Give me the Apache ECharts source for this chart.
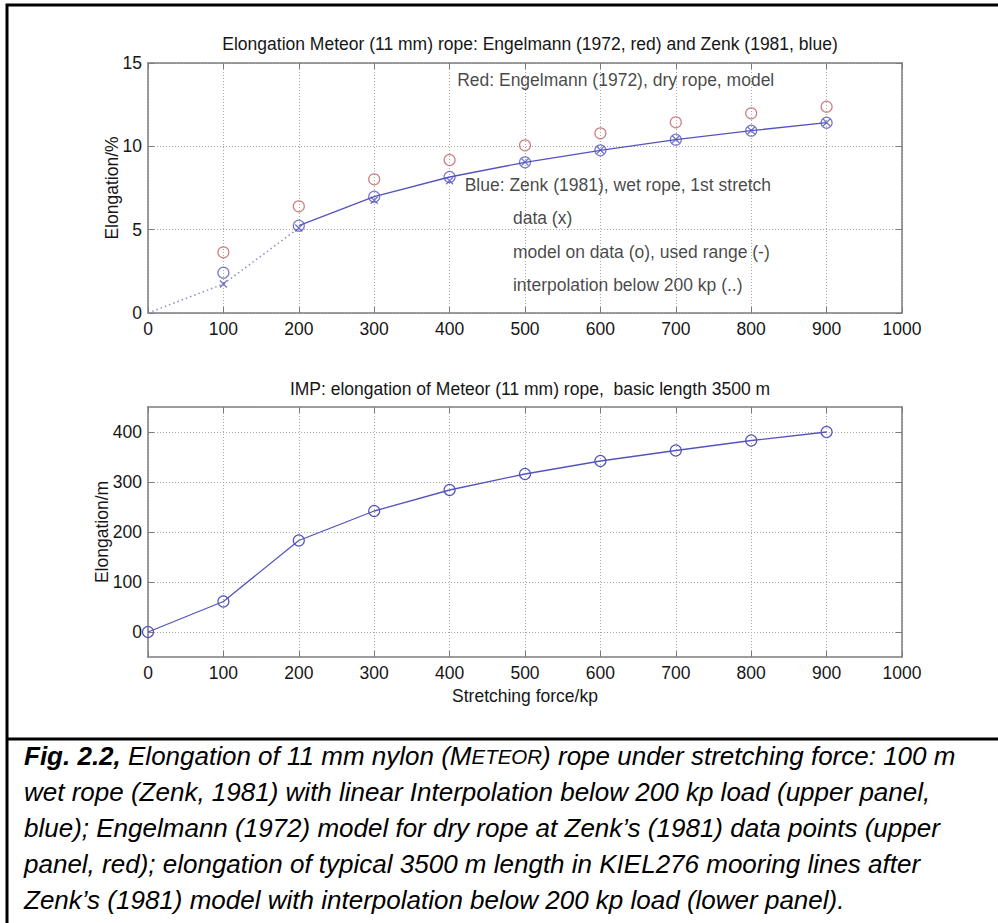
<!DOCTYPE html>
<html>
<head>
<meta charset="utf-8">
<script src="https://cdn.jsdelivr.net/npm/echarts@6/dist/echarts.min.js"></script>
<style>
  html, body { margin: 0; padding: 0; background: #ffffff; }
  #fig { width: 998px; height: 923px; }
</style>
</head>
<body>
<div id="fig"></div>
<script>
// Load steps of the stretching test (kp)
const forceKp = [100, 200, 300, 400, 500, 600, 700, 800, 900];
// Engelmann (1972), dry rope, model elongation in %
const engelmannDry = [3.64, 6.40, 8.02, 9.18, 10.06, 10.78, 11.44, 11.98, 12.38];
// Zenk (1981), wet rope, model evaluated at the data points, %
const zenkModel = [2.42, 5.24, 6.98, 8.16, 9.04, 9.76, 10.40, 10.94, 11.42];
// Zenk (1981), wet rope, 1st stretch, measured data, %
const zenkData = [1.74, 5.10, 6.76, 7.94, 9.06, 9.78, 10.42, 10.95, 11.43];
// Lower panel: load including zero, elongation of a 3500 m line in metres
const forceKpFull = [0, 100, 200, 300, 400, 500, 600, 700, 800, 900];
const elongation3500m = [0, 61, 183, 242, 284, 316, 342, 363, 383, 400];
// Tick values
const yTicksTop = [0, 5, 10, 15];
const yTicksBottom = [0, 100, 200, 300, 400];

const FONT = '"Liberation Sans", Arial, Helvetica, sans-serif';
const AXIS = '#7c7c7c';
const GRIDC = '#a8a8a8';
const TXT = '#161616';
const BLUE = '#5454be';
const RED = '#c25e5e';
const FS = 17.5;

const labelStyle = { color: TXT, fontSize: FS, fontFamily: FONT };
const dotted = { color: GRIDC, width: 1, type: [1, 2] };

function xPair(gridIndex, name) {
  const base = {
    type: 'value', gridIndex: gridIndex, min: 0, max: 1000, interval: 100,
    axisLine: { show: true, onZero: false, lineStyle: { color: AXIS, width: 1.5 } },
    axisTick: { show: true, inside: true, length: 6, lineStyle: { color: AXIS, width: 1 } }
  };
  return [
    Object.assign({}, base, {
      position: 'bottom',
      axisLabel: Object.assign({ margin: 7, formatter: (v) => String(v) }, labelStyle),
      splitLine: { show: true, lineStyle: dotted },
      name: name, nameLocation: 'middle', nameGap: 30, nameMoveOverlap: false,
      nameTextStyle: labelStyle
    }),
    Object.assign({}, base, {
      position: 'top',
      axisLabel: { show: false },
      splitLine: { show: false }
    })
  ];
}

function yPair(gridIndex, name, nameGap, min, max, interval, ticks) {
  const base = {
    type: 'value', gridIndex: gridIndex, min: min, max: max, interval: interval,
    axisLine: { show: true, onZero: false, lineStyle: { color: AXIS, width: 1.5 } },
    axisTick: { show: true, inside: true, length: 6, customValues: ticks, lineStyle: { color: AXIS, width: 1 } }
  };
  return [
    Object.assign({}, base, {
      position: 'left',
      axisLabel: Object.assign({ margin: 6, customValues: ticks, formatter: (v) => String(v) }, labelStyle),
      splitLine: { show: true, lineStyle: dotted },
      name: name, nameLocation: 'middle', nameGap: nameGap, nameMoveOverlap: false,
      nameTextStyle: labelStyle
    }),
    Object.assign({}, base, {
      position: 'right',
      axisLabel: { show: false },
      splitLine: { show: false }
    })
  ];
}

const hollow = (color) => ({ color: 'transparent', borderColor: color, borderWidth: 1.2 });
const crossPath = 'path://M0,0L10,10M10,0L0,10';

// Text written inside the upper panel, anchored in data coordinates
const notes = [
  { at: [410, 14.0], text: 'Red: Engelmann (1972), dry rope, model' },
  { at: [420, 7.7], text: 'Blue: Zenk (1981), wet rope, 1st stretch' },
  { at: [484, 5.72], text: 'data (x)' },
  { at: [484, 3.68], text: 'model on data (o), used range (-)' },
  { at: [484, 1.70], text: 'interpolation below 200 kp (..)' }
];

const capBase = { fontFamily: FONT, fontSize: 26, fontStyle: 'italic', color: '#000', lineHeight: 32 };
const capRich = {
  b: Object.assign({}, capBase, { fontWeight: 'bold' }),
  i: capBase,
  s: Object.assign({}, capBase, { fontSize: 20.5 })
};
const captionLines = [
  '{b|Fig. 2.2,}{i| Elongation of 11 mm nylon (M}{s|ETEOR}{i|) rope under stretching force: 100 m}',
  '{i|wet rope (Zenk, 1981) with linear Interpolation below 200 kp load (upper panel,}',
  '{i|blue); Engelmann (1972) model for dry rope at Zenk\u2019s (1981) data points (upper}',
  '{i|panel, red); elongation of typical 3500 m length in KIEL276 mooring lines after}',
  '{i|Zenk\u2019s (1981) model with interpolation below 200 kp load (lower panel).}'
];

const chart = echarts.init(document.getElementById('fig'), null, { renderer: 'svg' });

const titleStyle = { fontFamily: FONT, fontSize: FS, fontWeight: 'normal', color: TXT, lineHeight: 20 };

const option = {
  backgroundColor: '#ffffff',
  animation: false,
  title: [
    { text: 'Elongation Meteor (11 mm) rope: Engelmann (1972, red) and Zenk (1981, blue)',
      left: 525, top: 29, textAlign: 'center', textStyle: titleStyle },
    { text: 'IMP: elongation of Meteor (11 mm) rope,  basic length 3500 m',
      left: 525, top: 374, textAlign: 'center', textStyle: titleStyle }
  ],
  grid: [
    { left: 148, right: 96, top: 63, height: 250, containLabel: false },
    { left: 148, right: 96, top: 407, height: 250, containLabel: false }
  ],
  xAxis: [].concat(xPair(0, ''), xPair(1, 'Stretching force/kp')),
  yAxis: [].concat(
    yPair(0, 'Elongation/%', 27, 0, 15, 5, yTicksTop),
    yPair(1, 'Elongation/m', 37, -50, 450, 50, yTicksBottom)
  ),
  series: [
    {
      name: 'interpolation below 200 kp', type: 'line', xAxisIndex: 0, yAxisIndex: 0,
      data: [[0, 0], [forceKp[0], zenkData[0]], [forceKp[1], zenkData[1]]],
      symbol: 'none', lineStyle: { color: '#8c8cc8', width: 1.5, type: [1.5, 3] }, z: 3
    },
    {
      name: 'used range', type: 'line', xAxisIndex: 0, yAxisIndex: 0,
      data: forceKp.slice(1).map((f, i) => [f, zenkModel[i + 1]]),
      symbol: 'none', lineStyle: { color: BLUE, width: 1.3 }, z: 3
    },
    {
      name: 'Engelmann (1972)', type: 'scatter', xAxisIndex: 0, yAxisIndex: 0,
      data: forceKp.map((f, i) => [f, engelmannDry[i]]),
      symbol: 'circle', symbolSize: 11, itemStyle: hollow(RED), z: 4
    },
    {
      name: 'Zenk (1981) model', type: 'scatter', xAxisIndex: 0, yAxisIndex: 0,
      data: forceKp.map((f, i) => [f, zenkModel[i]]),
      symbol: 'circle', symbolSize: 11, itemStyle: hollow(BLUE), z: 4
    },
    {
      name: 'Zenk (1981) data', type: 'scatter', xAxisIndex: 0, yAxisIndex: 0,
      data: forceKp.map((f, i) => [f, zenkData[i]]),
      symbol: crossPath, symbolSize: 7, itemStyle: { color: 'none', borderColor: BLUE, borderWidth: 1.3 }, z: 5
    },
    {
      name: 'notes', type: 'scatter', xAxisIndex: 0, yAxisIndex: 0, silent: true,
      symbolSize: 0,
      data: notes.map(n => ({ value: n.at, label: { formatter: n.text } })),
      label: { show: true, position: 'right', distance: 0, color: TXT, fontSize: FS, fontFamily: FONT },
      z: 6
    },
    {
      name: 'elongation 3500 m', type: 'line', xAxisIndex: 2, yAxisIndex: 2,
      data: forceKpFull.map((f, i) => [f, elongation3500m[i]]),
      symbol: 'circle', symbolSize: 11, showAllSymbol: true,
      itemStyle: hollow(BLUE), lineStyle: { color: BLUE, width: 1.3 }, z: 4
    }
  ],
  graphic: [
    { type: 'rect', shape: { x: 7, y: 5, width: 1000, height: 1000 },
      style: { fill: 'none', stroke: '#000', lineWidth: 3 }, silent: true },
    { type: 'line', shape: { x1: 6, y1: 739, x2: 1000, y2: 739 },
      style: { stroke: '#000', lineWidth: 3 }, silent: true }
  ].concat(captionLines.map((t, k) => ({
    type: 'text', left: 24, top: 743 + k * 36, silent: true,
    style: { text: t, rich: capRich, fontFamily: FONT, fontSize: 26 }
  })))
};

chart.setOption(option);
</script>
</body>
</html>
